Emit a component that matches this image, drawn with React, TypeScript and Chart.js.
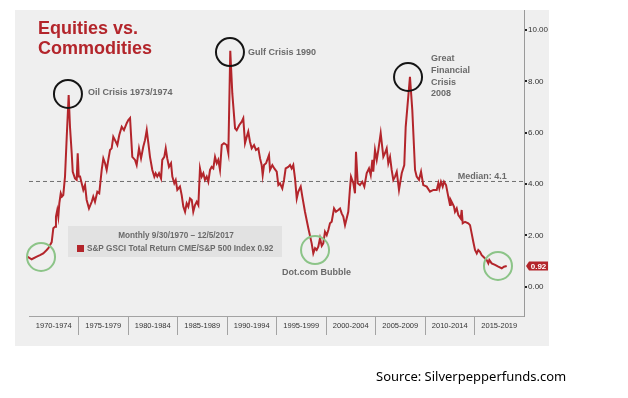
import React, { useEffect, useRef } from 'react';
import { Chart, registerables } from 'chart.js';

Chart.register(...registerables);

const FONT = '"Liberation Sans", Arial, Helvetica, sans-serif';
const RED = '#b3252b';

const dates = [
  1970.75, 1971.18, 1971.68, 1972.00, 1972.32, 1972.66, 1972.82, 1973.15, 1973.31, 1973.48,
  1973.57, 1973.70, 1973.80, 1973.90, 1974.04, 1974.16, 1974.29, 1974.46, 1974.63, 1974.82,
  1974.95, 1975.12, 1975.22, 1975.44, 1975.61, 1975.71, 1975.81, 1975.94, 1976.10, 1976.26,
  1976.43, 1976.59, 1976.82, 1977.09, 1977.24, 1977.41, 1977.64, 1977.83, 1978.07, 1978.23,
  1978.40, 1978.56, 1978.72, 1978.89, 1979.05, 1979.21, 1979.38, 1979.61, 1979.80, 1980.04,
  1980.26, 1980.53, 1980.69, 1980.86, 1981.08, 1981.35, 1981.51, 1981.74, 1981.94, 1982.16,
  1982.33, 1982.50, 1982.66, 1982.82, 1983.05, 1983.25, 1983.38, 1983.54, 1983.71, 1983.91,
  1984.03, 1984.23, 1984.37, 1984.52, 1984.69, 1984.89, 1985.02, 1985.21, 1985.35, 1985.51,
  1985.77, 1985.94, 1986.10, 1986.27, 1986.43, 1986.59, 1986.76, 1986.93, 1987.08, 1987.25,
  1987.42, 1987.58, 1987.74, 1987.91, 1988.07, 1988.23, 1988.40, 1988.56, 1988.73, 1988.89,
  1989.05, 1989.22, 1989.39, 1989.54, 1989.71, 1989.88, 1990.10, 1990.37, 1990.53, 1990.72,
  1990.92, 1991.19, 1991.35, 1991.61, 1991.85, 1992.00, 1992.17, 1992.34, 1992.49, 1992.66,
  1992.83, 1993.06, 1993.25, 1993.48, 1993.65, 1993.81, 1993.91, 1994.04, 1994.24, 1994.36,
  1994.53, 1994.63, 1994.86, 1995.05, 1995.29, 1995.45, 1995.61, 1995.84, 1996.01, 1996.17,
  1996.43, 1996.60, 1996.76, 1996.92, 1997.09, 1997.26, 1997.41, 1997.65, 1997.81, 1998.07,
  1998.40, 1998.73, 1998.89, 1999.06, 1999.22, 1999.38, 1999.55, 1999.72, 1999.87, 2000.04,
  2000.21, 2000.37, 2000.53, 2000.70, 2000.93, 2001.12, 2001.35, 2001.52, 2001.68, 2001.84,
  2002.01, 2002.33, 2002.50, 2002.60, 2002.83, 2002.99, 2003.09, 2003.26, 2003.48, 2003.71,
  2003.91, 2004.14, 2004.37, 2004.54, 2004.70, 2004.79, 2004.96, 2005.13, 2005.29, 2005.52,
  2005.78, 2005.94, 2006.11, 2006.27, 2006.44, 2006.60, 2006.76, 2006.93, 2007.10, 2007.32,
  2007.59, 2007.84, 2007.98, 2008.40, 2008.63, 2008.90, 2009.06, 2009.29, 2009.49, 2009.71,
  2010.05, 2010.37, 2010.70, 2011.03, 2011.19, 2011.29, 2011.45, 2011.62, 2011.75, 2011.95,
  2012.17, 2012.34, 2012.41, 2012.57, 2012.73, 2012.83, 2013.00, 2013.16, 2013.39, 2013.49,
  2013.59, 2013.82, 2014.14, 2014.31, 2014.47, 2014.63, 2014.80, 2014.97, 2015.12, 2015.29,
  2015.46, 2015.62, 2015.95, 2016.11, 2016.21, 2016.44, 2016.77, 2017.09, 2017.43, 2017.65,
  2017.92,
];

// S&P GSCI Total Return / S&P 500 ratio
const values = [
  1.17, 1.07, 1.17, 1.23, 1.30, 1.43, 1.50, 1.74, 2.28, 2.34,
  2.73, 2.99, 2.73, 3.25, 3.64, 3.51, 3.57, 4.29, 5.84, 7.47,
  6.23, 5.20, 4.48, 4.22, 4.16, 5.20, 4.29, 4.29, 4.03, 3.77,
  3.96, 3.38, 3.05, 3.31, 3.51, 3.31, 3.70, 3.64, 4.55, 5.00,
  4.81, 4.55, 4.94, 5.33, 5.39, 5.84, 5.71, 5.52, 5.91, 6.23,
  6.10, 6.37, 6.49, 6.57, 5.06, 4.94, 4.74, 5.39, 5.00, 5.45,
  5.71, 6.10, 5.59, 5.06, 4.55, 4.29, 4.42, 4.29, 4.42, 4.22,
  4.94, 5.06, 5.39, 5.00, 4.67, 4.81, 4.29, 4.03, 4.16, 3.77,
  3.90, 3.57, 3.12, 2.92, 3.25, 3.12, 3.44, 3.38, 2.92, 3.18,
  3.31, 3.18, 4.61, 4.29, 4.42, 4.16, 4.29, 4.09, 4.55, 4.67,
  4.61, 5.06, 4.81, 4.94, 4.55, 5.52, 5.59, 5.52, 5.20, 9.19,
  7.53, 6.17, 6.10, 6.30, 6.43, 6.56, 5.59, 5.84, 6.04, 5.65,
  5.39, 5.52, 5.33, 5.39, 5.00, 4.74, 4.35, 4.74, 4.81, 4.94,
  5.13, 4.55, 4.74, 4.61, 4.48, 3.96, 4.03, 3.83, 4.16, 4.61,
  4.67, 4.74, 4.61, 4.74, 4.22, 3.44, 3.70, 3.90, 3.51, 2.92,
  2.28, 1.69, 1.30, 1.50, 1.43, 1.56, 1.89, 1.59, 1.69, 2.14,
  2.01, 2.21, 2.47, 2.53, 3.05, 2.92, 2.99, 3.05, 2.86, 2.73,
  2.40, 2.92, 3.84, 4.29, 4.03, 3.64, 5.26, 4.03, 3.96, 4.09,
  3.90, 4.42, 4.61, 4.35, 4.94, 4.48, 5.33, 4.94, 5.33, 5.98,
  5.06, 5.20, 5.39, 4.81, 5.06, 4.55, 4.16, 4.29, 4.48, 3.77,
  4.42, 4.74, 6.23, 8.18, 6.88, 4.55, 4.29, 4.16, 4.48, 3.96,
  3.90, 3.70, 3.77, 3.77, 4.03, 3.83, 4.09, 3.90, 4.09, 3.96,
  3.51, 3.18, 3.38, 3.25, 3.12, 2.92, 3.05, 2.79, 2.66, 2.99,
  2.47, 2.53, 2.47, 2.40, 2.08, 1.75, 1.43, 1.30, 1.43, 1.36,
  1.23, 1.17, 1.04, 0.91, 1.04, 0.91, 0.85, 0.78, 0.72, 0.78,
  0.81,
];

const periodLabels = [
  '1970-1974', '1975-1979', '1980-1984', '1985-1989', '1990-1994',
  '1995-1999', '2000-2004', '2005-2009', '2010-2014', '2015-2019',
];
const periodCenters = [1972.5, 1977.5, 1982.5, 1987.5, 1992.5, 1997.5, 2002.5, 2007.5, 2012.5, 2017.5];
const yTickValues = [0, 2, 4, 6, 8, 10];

const medianValue = 4.1;
const medianText = 'Median: 4.1';
const lastValueText = '0.92';
const seriesName = 'S&P GSCI Total Return CME/S&P 500 Index 0.92';
const subtitle = 'Monthly 9/30/1970 \u2013 12/5/2017';

const crisisPoints = [
  { t: 1974.75, v: 7.51 },
  { t: 1990.69, v: 9.14 },
  { t: 2008.21, v: 8.17 },
];
const troughPoints = [
  { t: 1972.1, v: 1.16 },
  { t: 1999.06, v: 1.43 },
  { t: 2017.06, v: 0.81 },
];
const notes = [
  { t: 1974.75, v: 7.51, dx: 20, dy: -1, lines: ['Oil Crisis 1973/1974'] },
  { t: 1990.69, v: 9.14, dx: 18, dy: 0, lines: ['Gulf Crisis 1990'] },
  { t: 2008.21, v: 8.17, dx: 23, dy: -18, lines: ['Great', 'Financial', 'Crisis', '2008'] },
  { t: 1999.06, v: 1.43, dx: -33, dy: 22, lines: ['Dot.com Bubble'] },
];

const X_MIN = 1970.917;
const X_MAX = 2019.62;

const annotationPlugin = {
  id: 'annotations',
  afterDatasetsDraw(chart: any) {
    const { ctx, chartArea } = chart;
    const xs = chart.scales.x;
    const ys = chart.scales.y;
    ctx.save();

    // legend box
    const lx = chartArea.left + 39;
    const ly = chartArea.top + 216;
    ctx.fillStyle = 'rgba(222,222,222,0.75)';
    ctx.fillRect(lx, ly, 214, 31);
    ctx.fillStyle = '#6a6a6a';
    ctx.font = `bold 8.2px ${FONT}`;
    ctx.textBaseline = 'middle';
    ctx.textAlign = 'center';
    ctx.fillText(subtitle, lx + 108, ly + 10);
    ctx.fillStyle = RED;
    ctx.fillRect(lx + 9, ly + 19, 7, 7);
    ctx.fillStyle = '#6a6a6a';
    ctx.textAlign = 'left';
    ctx.fillText(seriesName, lx + 19, ly + 22.5);

    // circles
    ctx.lineWidth = 2;
    ctx.strokeStyle = '#151515';
    for (const c of crisisPoints) {
      ctx.beginPath();
      ctx.arc(xs.getPixelForValue(c.t), ys.getPixelForValue(c.v), 14, 0, Math.PI * 2);
      ctx.stroke();
    }
    ctx.strokeStyle = '#8cc488';
    for (const c of troughPoints) {
      ctx.beginPath();
      ctx.arc(xs.getPixelForValue(c.t), ys.getPixelForValue(c.v), 14, 0, Math.PI * 2);
      ctx.stroke();
    }

    // notes
    ctx.font = `bold 9px ${FONT}`;
    ctx.fillStyle = '#6a6a6a';
    ctx.textAlign = 'left';
    for (const n of notes) {
      const px = xs.getPixelForValue(n.t) + n.dx;
      const py = ys.getPixelForValue(n.v) + n.dy;
      n.lines.forEach((s, i) => ctx.fillText(s, px, py + i * 11.6));
    }

    // median label
    ctx.textAlign = 'right';
    ctx.fillText(medianText, xs.getPixelForValue(dates[dates.length - 1]), ys.getPixelForValue(medianValue) - 5);

    // last value tag
    const ty = ys.getPixelForValue(values[values.length - 1]);
    const tx = chartArea.right + 2;
    ctx.fillStyle = RED;
    ctx.beginPath();
    ctx.moveTo(tx, ty);
    ctx.lineTo(tx + 3, ty - 4.5);
    ctx.lineTo(tx + 22, ty - 4.5);
    ctx.lineTo(tx + 22, ty + 4.5);
    ctx.lineTo(tx + 3, ty + 4.5);
    ctx.closePath();
    ctx.fill();
    ctx.fillStyle = '#ffffff';
    ctx.font = `bold 8px ${FONT}`;
    ctx.textAlign = 'center';
    ctx.fillText(lastValueText, tx + 12.5, ty + 0.5);

    ctx.restore();
  },
};

export default function App() {
  const ref = useRef<HTMLCanvasElement>(null);

  useEffect(() => {
    const series = dates.map((d, i) => ({ x: d, y: values[i] }));
    const chart = new Chart(ref.current as HTMLCanvasElement, {
      type: 'line',
      data: {
        datasets: [
          {
            label: seriesName,
            data: series,
            borderColor: RED,
            borderWidth: 2,
            pointRadius: 0,
            tension: 0,
            clip: false,
            xAxisID: 'x',
            yAxisID: 'y',
          } as any,
          {
            label: 'Median',
            data: [
              { x: X_MIN, y: medianValue },
              { x: X_MAX, y: medianValue },
            ],
            borderColor: '#707070',
            borderWidth: 1,
            borderDash: [4, 3],
            pointRadius: 0,
            xAxisID: 'x',
            yAxisID: 'y',
          } as any,
        ],
      },
      options: {
        responsive: false,
        animation: false,
        devicePixelRatio: 1,
        layout: { padding: { left: 29, top: 10, right: 74, bottom: 58 } },
        plugins: {
          legend: { display: false },
          tooltip: { enabled: false },
        },
        scales: {
          x: { type: 'linear', display: false, min: X_MIN, max: X_MAX },
          xl: {
            type: 'linear',
            position: 'bottom',
            min: 1970,
            max: 2020,
            afterBuildTicks: (s: any) => {
              s.ticks = periodCenters.map((v) => ({ value: v }));
            },
            afterFit: (s: any) => {
              s.height = 24;
            },
            ticks: {
              autoSkip: false,
              maxRotation: 0,
              padding: -14,
              color: '#333333',
              font: { size: 7.5, family: FONT },
              callback: (_v: any, i: number) => periodLabels[i],
            },
            grid: {
              offset: true,
              drawOnChartArea: false,
              drawTicks: true,
              tickLength: 19,
              lineWidth: 1,
              color: (c: any) => (c.type === 'tick' && c.index > 0 ? '#a3a3a3' : 'rgba(0,0,0,0)'),
            },
            border: { display: true, color: '#a3a3a3', width: 1 },
          },
          y: {
            type: 'linear',
            position: 'right',
            min: -1.14,
            max: 10.78,
            afterBuildTicks: (s: any) => {
              s.ticks = yTickValues.map((v) => ({ value: v }));
            },
            afterFit: (s: any) => {
              s.width = 30;
            },
            ticks: {
              padding: 1,
              color: '#333333',
              font: { size: 8, family: FONT },
              callback: (v: any) => Number(v).toFixed(2),
            },
            grid: { drawOnChartArea: false, tickLength: 3, lineWidth: 2, color: '#222222' },
            border: { display: true, color: '#999999', width: 1 },
          },
        } as any,
      },
      plugins: [annotationPlugin],
    });
    return () => chart.destroy();
  }, []);

  return (
    <div style={{ position: 'absolute', left: 0, top: 0, width: 628, height: 398, background: '#ffffff', overflow: 'hidden' }}>
      <div style={{ position: 'absolute', left: 15, top: 10, width: 534, height: 336, background: '#efefef' }} />
      <canvas
        ref={ref}
        width={628}
        height={398}
        style={{ position: 'absolute', left: 0, top: 0, width: 628, height: 398 }}
      />
      <div
        style={{
          position: 'absolute',
          left: 38,
          top: 18,
          font: `bold 18px/20px ${FONT}`,
          color: RED,
          whiteSpace: 'nowrap',
        }}
      >
        Equities vs.
        <br />
        Commodities
      </div>
      <div
        style={{
          position: 'absolute',
          left: 376,
          top: 370,
          font: '13px/13px "Noto Sans", "Open Sans", sans-serif',
          color: '#000000',
          whiteSpace: 'nowrap',
        }}
      >
        Source: Silverpepperfunds.com
      </div>
    </div>
  );
}
